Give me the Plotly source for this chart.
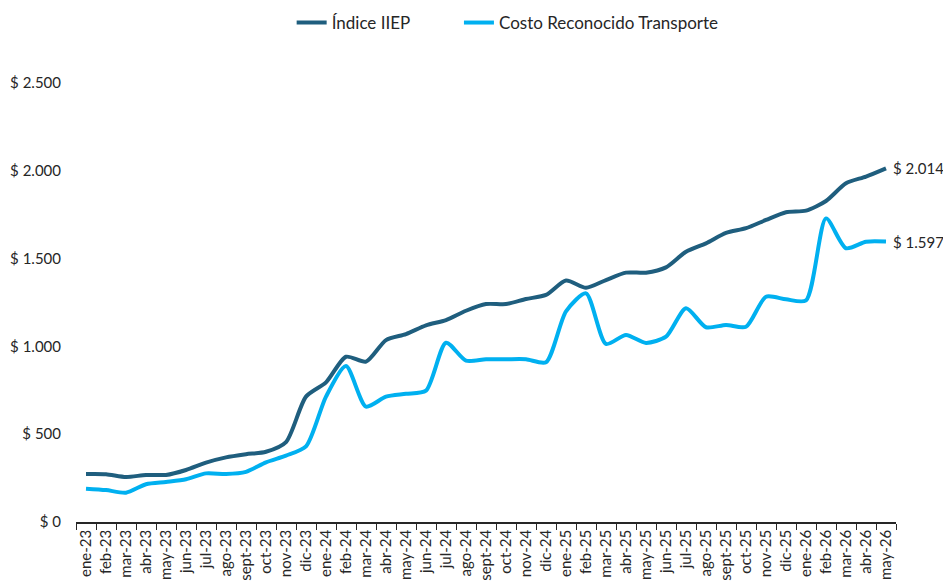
import plotly.graph_objects as go

# Serie mensual ene-23 a may-26
meses = ['ene-23', 'feb-23', 'mar-23', 'abr-23', 'may-23', 'jun-23', 'jul-23', 'ago-23', 'sept-23', 'oct-23', 'nov-23', 'dic-23',
         'ene-24', 'feb-24', 'mar-24', 'abr-24', 'may-24', 'jun-24', 'jul-24', 'ago-24', 'sept-24', 'oct-24', 'nov-24', 'dic-24',
         'ene-25', 'feb-25', 'mar-25', 'abr-25', 'may-25', 'jun-25', 'jul-25', 'ago-25', 'sept-25', 'oct-25', 'nov-25', 'dic-25',
         'ene-26', 'feb-26', 'mar-26', 'abr-26', 'may-26']

indice_iiep = [273, 272, 256, 268, 268, 296, 338, 368, 386, 400, 455, 714,
               795, 941, 913, 1036, 1070, 1120, 1150, 1203, 1241, 1241, 1270, 1293,
               1375, 1334, 1378, 1420, 1420, 1450, 1539, 1587, 1646, 1673, 1720, 1764,
               1773, 1828, 1929, 1967, 2014]

costo_transporte = [190, 182, 167, 215, 228, 243, 277, 273, 285, 340, 378, 430,
                    714, 888, 657, 714, 730, 748, 1021, 919, 927, 927, 927, 910,
                    1200, 1302, 1014, 1065, 1020, 1055, 1217, 1109, 1122, 1112, 1283, 1268,
                    1262, 1729, 1559, 1596, 1597]

y_ticks = [0, 500, 1000, 1500, 2000, 2500]
y_ticktext = ['$ 0', '$ 500', '$ 1.000', '$ 1.500', '$ 2.000', '$ 2.500']

color_iiep = '#1F5E7E'
color_costo = '#00B0F0'
fuente = 'Lato, Noto Sans, sans-serif'


def pesos(v):
    return '$ ' + f'{v:,.0f}'.replace(',', '.')


fig = go.Figure()
fig.add_trace(go.Scatter(x=meses, y=indice_iiep, name='Índice IIEP', mode='lines', legend='legend',
                         line=dict(color=color_iiep, width=4, shape='spline', smoothing=0.7)))
fig.add_trace(go.Scatter(x=meses, y=costo_transporte, name='Costo Reconocido Transporte', mode='lines',
                         legend='legend2',
                         line=dict(color=color_costo, width=4, shape='spline', smoothing=0.7)))

# etiquetas del último valor
for serie in [indice_iiep, costo_transporte]:
    fig.add_annotation(x=meses[-1], y=serie[-1], text=pesos(serie[-1]), showarrow=False,
                       xanchor='left', xshift=5, font=dict(size=15, color='#262626', family=fuente))

leyenda = dict(orientation='h', xanchor='left', y=1.1367, yanchor='middle',
               font=dict(size=17), itemwidth=30, bgcolor='rgba(0,0,0,0)')

# la página tiene 8px de margen, por eso 943x574
fig.update_layout(
    width=943, height=574,
    margin=dict(l=68, r=55, t=75, b=60, autoexpand=False),
    plot_bgcolor='white', paper_bgcolor='white',
    font=dict(family=fuente, size=15, color='#262626'),
    showlegend=True,
    legend=dict(leyenda, x=0.263),
    legend2=dict(leyenda, x=0.467),
    xaxis=dict(type='category', showline=True, linecolor='#262626', linewidth=1.5,
               ticks='outside', tickson='boundaries', ticklen=6, tickcolor='#262626',
               tickangle=-90, tickfont=dict(size=15), showgrid=False, automargin=False,
               range=[-0.5, len(meses) - 0.5]),
    yaxis=dict(range=[0, 2500], tickvals=y_ticks, ticktext=y_ticktext, showgrid=False,
               zeroline=False, showline=False, ticks='', ticklabelstandoff=14,
               tickfont=dict(size=15), automargin=False),
)

fig.write_html("out.html")
